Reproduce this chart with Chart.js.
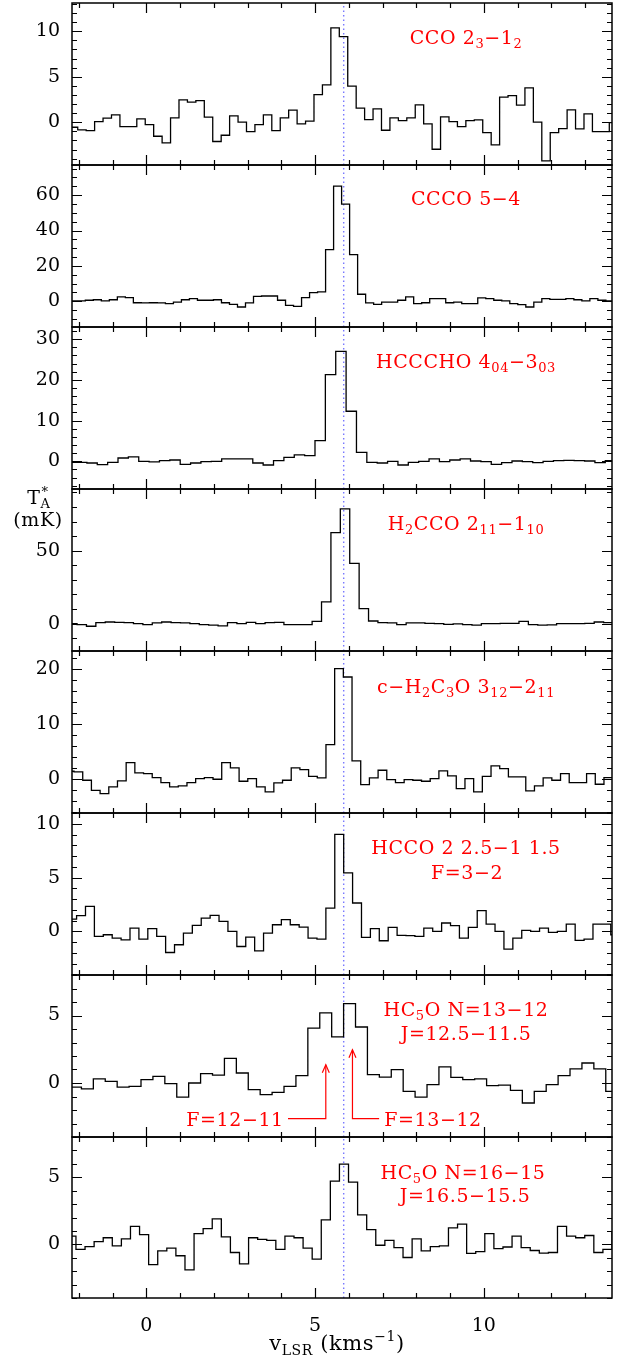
<!DOCTYPE html>
<html>
<head>
<meta charset="utf-8">
<script src="https://cdn.jsdelivr.net/npm/chart.js@4.4.1/dist/chart.umd.min.js"></script>
<style>
  html, body { margin: 0; padding: 0; background: #fff; }
  #wrap { position: relative; width: 628px; height: 1358px; overflow: hidden; font-family: 'DejaVu Serif', serif; }
  #wrap canvas { position: absolute; left: 0; }
  .lab { position: absolute; white-space: nowrap; font-size: 19px; line-height: 19px; color: #f00; letter-spacing: 0.6px; transform: translateX(-50%); z-index: 5; }
  .blk { color: #000; }
  .big { font-size: 21px; }
  .s { font-size: 13px; position: relative; top: 4px; }
  .p { font-size: 13px; position: relative; top: -8px; }
  .big .s { font-size: 14px; top: 5px; }
  .big .p { font-size: 14px; top: -9px; }
</style>
</head>
<body>
<div id="wrap"></div>
<script>
// --- Data ------------------------------------------------------------------
var velMin = -2.2, velMax = 13.8;
var vSys = 5.85;

// CCO 2_3-1_2
var ccoStart = -2.28, ccoStep = 0.25;
var ccoTa = [-0.55, -0.84, -0.92, 0.07, 0.44, 0.81, -0.48, -0.48, 0.37, -0.26, -1.54, -2.27, 0.48, 2.45, 2.2, 2.38,
  0.55, -2.12, -1.43, 0.7, 0.0, -1.03, -0.26, 0.81, -0.92, 0.48, 1.32, -0.18, 0.11, 3.04, 4.1, 10.37, 9.41, 3.96,
  1.54, 0.29, 1.47, -0.88, 0.48, 0.18, 0.48, 1.9, -0.18, -2.97, 0.59, 0.07, -0.48, 0.18, 0.26, -1.14, -2.49, 2.75,
  2.93, 1.87, 3.77, 0.0, -4.25, -1.14, -0.7, 1.36, -0.73, 0.92, -1.03, -1.03, -0.04];

// CCCO 5-4
var cccoStart = -2.28, cccoStep = 0.2373;
var cccoTa = [0.2, 0.2, 0.6, 0.9, 0.2, 0.9, 2.5, 2.1, -0.8, -0.9, -0.8, -0.9, -1.3, -0.4, 0.9, 1.5, 0.6, 0.6, 0.9,
  -0.8, -1.7, -3.2, -0.9, 2.8, 3.0, 3.0, 0.6, -2.3, -2.8, 2.1, 4.9, 5.3, 29.2, 65.1, 54.9, 26.4, 4.0, -0.9, -1.7,
  -0.4, -0.4, 0.6, 2.5, -1.3, -0.8, 1.5, 1.5, -0.8, -0.4, -1.3, -1.3, 1.9, 1.5, 0.6, 0.2, -1.3, -1.9, -3.2, -0.4,
  1.5, 1.1, 1.1, 1.5, 0.9, 0.2, 1.5, 0.6, 0.2];

// HCCCHO 4_04-3_03
var hccchoStart = -2.373, hccchoStep = 0.3072;
var hccchoTa = [-0.25, -0.25, -0.41, -0.82, -0.25, 0.82, 1.07, 0, -0.16, 0.16, 0.33, -0.74, -0.41, -0.08, 0, 0.58,
  0.58, 0.58, -0.41, -0.9, 0.16, 0.99, 1.56, 1.4, 5.1, 21.3, 27.0, 12.3, 2.2, -0.25, -0.41, 0, -0.9, -0.25, 0, 0.58,
  -0.08, 0.33, 0.58, 0.08, -0.08, -0.74, -0.33, 0.08, -0.08, -0.33, 0, 0.16, 0.25, 0.16, 0.08, -0.33, 0.16];

// H2CCO 2_11-1_10
var h2ccoStart = -2.329, h2ccoStep = 0.2786;
var h2ccoTa = [0, -0.7, -1.8, 0.7, 1.1, 0.9, 0.7, 0, -0.7, 0.5, 1.1, 0.7, 0.5, 0, -0.7, -1.1, -1.6, 0.7, 0, 0.9, 0,
  0.7, 0.9, -0.7, -0.7, -0.7, 1.6, 14.9, 62.4, 78.7, 41.3, 10.3, 1.8, 0.7, 0.5, -0.7, 0.5, 0.5, 0.2, 0, -0.5, -0.2,
  -0.7, -1.1, 0, 0, 0.2, 0.2, 1.6, -0.7, -1.1, -0.9, 0, 0, 0, 0.2, 1.1, 0.7, 0.7];

// c-H2C3O 3_12-2_11
var c3oStart = -2.397, c3oStep = 0.2574;
var c3oTa = [1.45, 1.33, -0.18, -2.0, -2.59, -1.39, -0.3, 3.01, 1.14, 1.02, 0.3, -0.6, -1.39, -1.2, -0.6, 0.12, 0.3,
  0, 3.01, 2.05, -0.36, 0.12, -1.39, -2.29, -0.66, -0.18, 2.05, 1.75, 0.54, 0.24, 6.27, 20.0, 18.5, 3.31, -0.96, 0.24,
  1.63, -0.06, -0.6, -0.06, -0.18, -0.36, 0.12, 1.51, 0.6, -1.69, 0.12, -2.29, 0.54, 2.41, 1.93, 0.42, 0.42, -2.11,
  -1.2, 0.24, -0.18, 1.02, -0.6, -0.6, 1.02, -0.9, 0.3, 1.3];

// HCCO 2 2.5-1 1.5 F=3-2
var hccoStart = -2.328, hccoStep = 0.2638;
var hccoTa = [1.15, 1.46, 2.33, -0.47, -0.31, -0.62, -0.78, 0.31, -0.71, 0.25, -0.47, -1.96, -1.24, -0.16, 0.56, 1.24,
  1.49, 0.93, 0, -1.4, -0.53, -1.8, -0.16, 0.62, 1.09, 0.62, 0.4, -0.62, -0.71, 2.17, 9.01, 5.43, 2.64, -0.56, 0.25,
  -0.87, 0.37, -0.37, -0.4, -0.47, 0.31, 0, 0.78, 0.53, -0.62, 0.37, 1.93, 0.68, 0, -1.65, -0.62, 0.09, 0, 0.31,
  -0.09, 0, 0.68, -0.84, -0.71, 0.68, 0.68, -0.31];

// HC5O N=13-12 J=12.5-11.5
var hc5o13Start = -2.274, hc5o13Step = 0.3531;
var hc5o13Ta = [-0.3, -0.44, 0.3, 0.12, -0.3, -0.25, 0.25, 0.49, -0.05, -1.04, 0, 0.69, 0.59, 1.83, 0.74, -0.49,
  -0.86, -0.69, -0.25, 0.54, 4.07, 5.19, 3.41, 5.88, 4.15, 0.62, 0.44, 0.99, -0.62, -1.04, -0.12, 1.19, 0.42, 0.25,
  0.3, -0.2, -0.15, -0.54, -1.48, -0.62, -0.12, 0.54, 1.04, 1.48, 1.04, -0.62];

// HC5O N=16-15 J=16.5-15.5
var hc5o16Start = -2.352, hc5o16Step = 0.2692;
var hc5o16Ta = [0.61, -0.37, -0.17, 0.2, 0.49, -0.12, 0.41, 1.34, 0.73, -1.51, -0.49, -0.29, -0.85, -1.9, 0.8, 1.17,
  1.9, 0.56, -0.61, -1.46, 0.49, 0.37, 0.29, -0.37, 0.61, 0.49, -0.29, -1.1, 1.83, 4.71, 5.98, 4.63, 2.2, 1.1, -0.07,
  0.29, -0.24, -0.98, 0.41, -0.49, -0.17, -0.12, 1.22, 1.51, -0.68, -0.54, 0.8, -0.32, -0.2, 0.61, -0.24, -0.46,
  -0.66, -0.61, 1.34, 0.61, 0.49, 0.66, -0.61, -0.37, 0.98];

// hyperfine markers in the HC5O 13-12 panel (velocity, T_A)
var arrowF1211V = [4.2, 5.32, 5.32], arrowF1211T = [-2.64, -2.64, 1.36];
var arrowF1312V = [6.9, 6.11, 6.11], arrowF1312T = [-2.64, -2.64, 2.47];

// y axis ranges and tick steps, top panel first
var yMins   = [-4.7, -14.5, -6.8, -18.8, -6.1, -4.05, -4.0, -4.0];
var yMaxs   = [13.1, 77, 33, 92.4, 23.2, 11.0, 8.0, 8.0];
var yMajors = [5, 20, 10, 50, 10, 5, 5, 5];
var yMinors = [1, 5, 2, 10, 2, 1, 1, 1];

// --- Layout ------------------------------------------------------------------
var panelTops = [3, 165, 327, 489, 651, 813, 975, 1137];
var panelBottoms = [165, 327, 489, 651, 813, 975, 1137, 1298];
var PAD = 26, XAXIS_H = 40;
var FONT = "'DejaVu Serif', serif";

var panels = [
  { start: ccoStart, step: ccoStep, vals: ccoTa },
  { start: cccoStart, step: cccoStep, vals: cccoTa },
  { start: hccchoStart, step: hccchoStep, vals: hccchoTa },
  { start: h2ccoStart, step: h2ccoStep, vals: h2ccoTa },
  { start: c3oStart, step: c3oStep, vals: c3oTa },
  { start: hccoStart, step: hccoStep, vals: hccoTa },
  { start: hc5o13Start, step: hc5o13Step, vals: hc5o13Ta },
  { start: hc5o16Start, step: hc5o16Step, vals: hc5o16Ta }
];

function stepPoints(start, step, vals){
  // points at the channel left edges; the last channel is closed at its right edge
  var pts = vals.map(function(t, i){ return { x: start + i * step, y: t }; });
  pts.push({ x: start + vals.length * step, y: vals[vals.length - 1] });
  return pts;
}

function zipPts(xs, ys){
  return xs.map(function(x, i){ return { x: x, y: ys[i] }; });
}

// frame with inward ticks on all four sides, plus arrow heads
var frameTicks = {
  id: 'frameTicks',
  afterDatasetsDraw: function(chart, args, opts){
    var a = chart.chartArea, ctx = chart.ctx;
    var xs = chart.scales.x, ys = chart.scales.y;
    ctx.save();
    ctx.strokeStyle = '#000';
    ctx.lineWidth = 1.2;
    ctx.beginPath();
    for (var v = Math.ceil(xs.min); v <= xs.max; v++) {
      var px = Math.round(xs.getPixelForValue(v)) + 0.5;
      var len = (v % 5 === 0) ? 10 : 5;
      ctx.moveTo(px, a.top); ctx.lineTo(px, a.top + len);
      ctx.moveTo(px, a.bottom); ctx.lineTo(px, a.bottom - len);
    }
    for (var k = Math.ceil(ys.min / opts.minor); k * opts.minor <= ys.max; k++) {
      var val = k * opts.minor;
      var py = Math.round(ys.getPixelForValue(val)) + 0.5;
      var l2 = (Math.abs(val % opts.major) < 1e-9) ? 10 : 5;
      ctx.moveTo(a.left, py); ctx.lineTo(a.left + l2, py);
      ctx.moveTo(a.right, py); ctx.lineTo(a.right - l2, py);
    }
    ctx.stroke();
    ctx.lineWidth = 1.5;
    ctx.strokeRect(a.left, a.top, a.right - a.left, a.bottom - a.top);

    chart.data.datasets.forEach(function(ds){
      if (!ds.arrowHead) return;
      var tip = ds.data[ds.data.length - 1];
      var tx = xs.getPixelForValue(tip.x), ty = ys.getPixelForValue(tip.y);
      ctx.strokeStyle = ds.borderColor;
      ctx.lineWidth = 1.2;
      ctx.beginPath();
      ctx.moveTo(tx - 3.5, ty + 8);
      ctx.lineTo(tx, ty);
      ctx.lineTo(tx + 3.5, ty + 8);
      ctx.stroke();
    });
    ctx.restore();
  }
};

var wrap = document.getElementById('wrap');

panels.forEach(function(p, i){
  var isLast = (i === panels.length - 1);
  var h = panelBottoms[i] - panelTops[i];
  var canvas = document.createElement('canvas');
  var cH = PAD + h + (isLast ? XAXIS_H : PAD);
  canvas.width = 628;
  canvas.height = cH;
  canvas.style.width = '628px';
  canvas.style.height = cH + 'px';
  canvas.style.top = (panelTops[i] - PAD) + 'px';
  wrap.appendChild(canvas);

  var datasets = [{
    data: stepPoints(p.start, p.step, p.vals),
    borderColor: '#000',
    borderWidth: 1.3,
    stepped: 'before',   // each edge point holds its value until the next edge
    pointRadius: 0
  }, {
    data: [{ x: vSys, y: yMins[i] }, { x: vSys, y: yMaxs[i] }],
    borderColor: '#7878ff',
    borderWidth: 1.4,
    borderDash: [1.5, 3],
    pointRadius: 0
  }];

  if (i === 6) {
    datasets.push({ data: zipPts(arrowF1211V, arrowF1211T), borderColor: '#f00', borderWidth: 1.2, pointRadius: 0, arrowHead: true });
    datasets.push({ data: zipPts(arrowF1312V, arrowF1312T), borderColor: '#f00', borderWidth: 1.2, pointRadius: 0, arrowHead: true });
  }

  var xScale = {
    type: 'linear', min: velMin, max: velMax, display: isLast,
    grid: { display: false, drawTicks: false },
    border: { display: false },
    ticks: { stepSize: 5, includeBounds: false, padding: 17, color: '#000', maxRotation: 0,
             font: { family: FONT, size: 19 } }
  };
  if (isLast) xScale.afterFit = function(s){ s.height = XAXIS_H; };

  new Chart(canvas, {
    type: 'line',
    data: { datasets: datasets },
    options: {
      responsive: false,
      animation: false,
      events: [],
      layout: { padding: { left: 0, right: 16, top: PAD, bottom: isLast ? 0 : PAD } },
      plugins: { legend: { display: false }, tooltip: { enabled: false },
                 frameTicks: { major: yMajors[i], minor: yMinors[i] } },
      scales: {
        x: xScale,
        y: {
          type: 'linear', min: yMins[i], max: yMaxs[i],
          grid: { display: false, drawTicks: false },
          border: { display: false },
          ticks: { stepSize: yMajors[i], includeBounds: false, padding: 12, color: '#000',
                   font: { family: FONT, size: 19 } },
          afterFit: function(s){ s.width = 72; }
        }
      }
    },
    plugins: [frameTicks]
  });
});

// --- Text labels (center x, baseline y) -----------------------------------------
var labels = [
  ['CCO 2<span class="s">3</span>−1<span class="s">2</span>', 466, 43.5],
  ['CCCO 5−4', 466, 205],
  ['HCCCHO 4<span class="s">04</span>−3<span class="s">03</span>', 466, 367.5],
  ['H<span class="s">2</span>CCO 2<span class="s">11</span>−1<span class="s">10</span>', 466, 529.5],
  ['c−H<span class="s">2</span>C<span class="s">3</span>O 3<span class="s">12</span>−2<span class="s">11</span>', 466, 692.5],
  ['HCCO 2 2.5−1 1.5', 466, 853.5],
  ['F=3−2', 467, 878.5],
  ['HC<span class="s">5</span>O N=13−12', 466, 1016],
  ['J=12.5−11.5', 466, 1039.5],
  ['F=12−11', 235, 1126],
  ['F=13−12', 433, 1126],
  ['HC<span class="s">5</span>O N=16−15', 463, 1178.5],
  ['J=16.5−15.5', 465, 1201.5]
];
var axisLabels = [
  ['T<span class="s">A</span><span class="p" style="margin-left:-9px">*</span>', 38, 504, 'lab blk', 16],
  ['(mK)', 38, 526, 'lab blk', 16],
  ['v<span class="s">LSR</span> (kms<span class="p">−1</span>)', 337, 1351, 'lab blk big', 17]
];

function addLabel(item, cls, base){
  var d = document.createElement('div');
  d.className = cls;
  d.innerHTML = item[0];
  d.style.left = item[1] + 'px';
  d.style.top = (item[2] - base) + 'px';
  wrap.appendChild(d);
}
labels.forEach(function(l){ addLabel(l, 'lab', 16); });
axisLabels.forEach(function(l){ addLabel(l, l[3], l[4]); });
</script>
</body>
</html>
